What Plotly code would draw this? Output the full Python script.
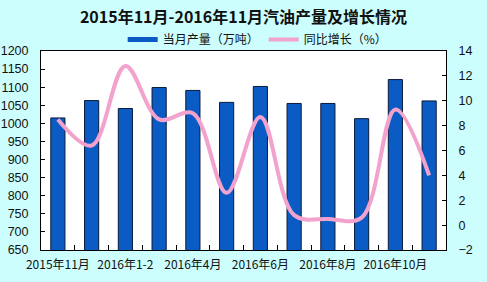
import plotly.graph_objects as go

categories = ["2015年11月", "2015年12月", "2016年1-2", "2016年3月", "2016年4月", "2016年5月",
              "2016年6月", "2016年7月", "2016年8月", "2016年9月", "2016年10月", "2016年11月"]
production = [1015, 1063, 1041, 1099, 1091, 1058, 1102, 1055, 1055, 1013, 1121, 1062]
growth = [8.5, 6.4, 12.8, 8.5, 9.0, 2.6, 8.7, 0.8, 0.5, 0.6, 9.3, 4.0]
shown_labels = [c if i % 2 == 0 else "" for i, c in enumerate(categories)]

title_text = "2015年11月-2016年11月汽油产量及增长情况"
bar_name = "当月产量（万吨）"
line_name = "同比增长（%）"

bar_color = "#0A5CC4"
line_color = "#F2A2CC"
cjk = "Noto Sans CJK SC"

fig = go.Figure()
fig.add_trace(go.Bar(x=categories, y=production, name=bar_name, showlegend=False,
                     marker=dict(color=bar_color, line=dict(color="#0A1A3A", width=1)),
                     yaxis="y"))
fig.add_trace(go.Scatter(x=categories, y=growth, name=line_name, mode="lines", showlegend=False,
                         line=dict(color=line_color, width=4, shape="spline", smoothing=1.0),
                         yaxis="y2"))
# legend proxies
fig.add_trace(go.Scatter(x=[None], y=[None], mode="lines", name=bar_name,
                         line=dict(color=bar_color, width=5), yaxis="y"))
fig.add_trace(go.Scatter(x=[None], y=[None], mode="lines", name=line_name,
                         line=dict(color=line_color, width=4), yaxis="y2"))

fig.update_layout(
    width=487, height=282,
    margin=dict(l=41, r=41, t=51, b=32, autoexpand=False),
    paper_bgcolor="#CCFEFE", plot_bgcolor="#FFFFFF",
    bargap=0.58,
    title=dict(text="<b>" + title_text + "</b>", x=0.5, xanchor="center", y=0.94, yanchor="middle",
               font=dict(family=cjk, size=16, color="#111111")),
    legend=dict(orientation="h", x=0.535, xanchor="center", y=0.985, yanchor="bottom",
                font=dict(family=cjk, size=12, color="#111111"), bgcolor="rgba(0,0,0,0)",
                itemwidth=30, tracegroupgap=0),
    xaxis=dict(type="category", tickvals=categories, ticktext=shown_labels, tickson="boundaries",
               ticks="inside", ticklen=5, tickcolor="#000000", showline=True, linecolor="#000000",
               linewidth=1, mirror=True, showgrid=False, ticklabelstandoff=4, automargin=False,
               tickfont=dict(family=cjk, size=12, color="#111111"), tickangle=0),
    yaxis=dict(range=[650, 1200], dtick=50, ticks="inside", ticklen=4, tickcolor="#000000",
               showline=True, linecolor="#000000", showgrid=False, zeroline=False,
               ticklabelstandoff=9, automargin=False,
               tickfont=dict(family="Liberation Sans", size=12.5, color="#111111")),
    yaxis2=dict(range=[-2, 14], dtick=2, overlaying="y", side="right", ticks="inside", ticklen=4,
                tickcolor="#000000", showline=True, linecolor="#000000", showgrid=False,
                zeroline=False, ticklabelstandoff=9, automargin=False,
                tickfont=dict(family="Liberation Sans", size=12.5, color="#111111")),
)

fig.write_html("out.html")
